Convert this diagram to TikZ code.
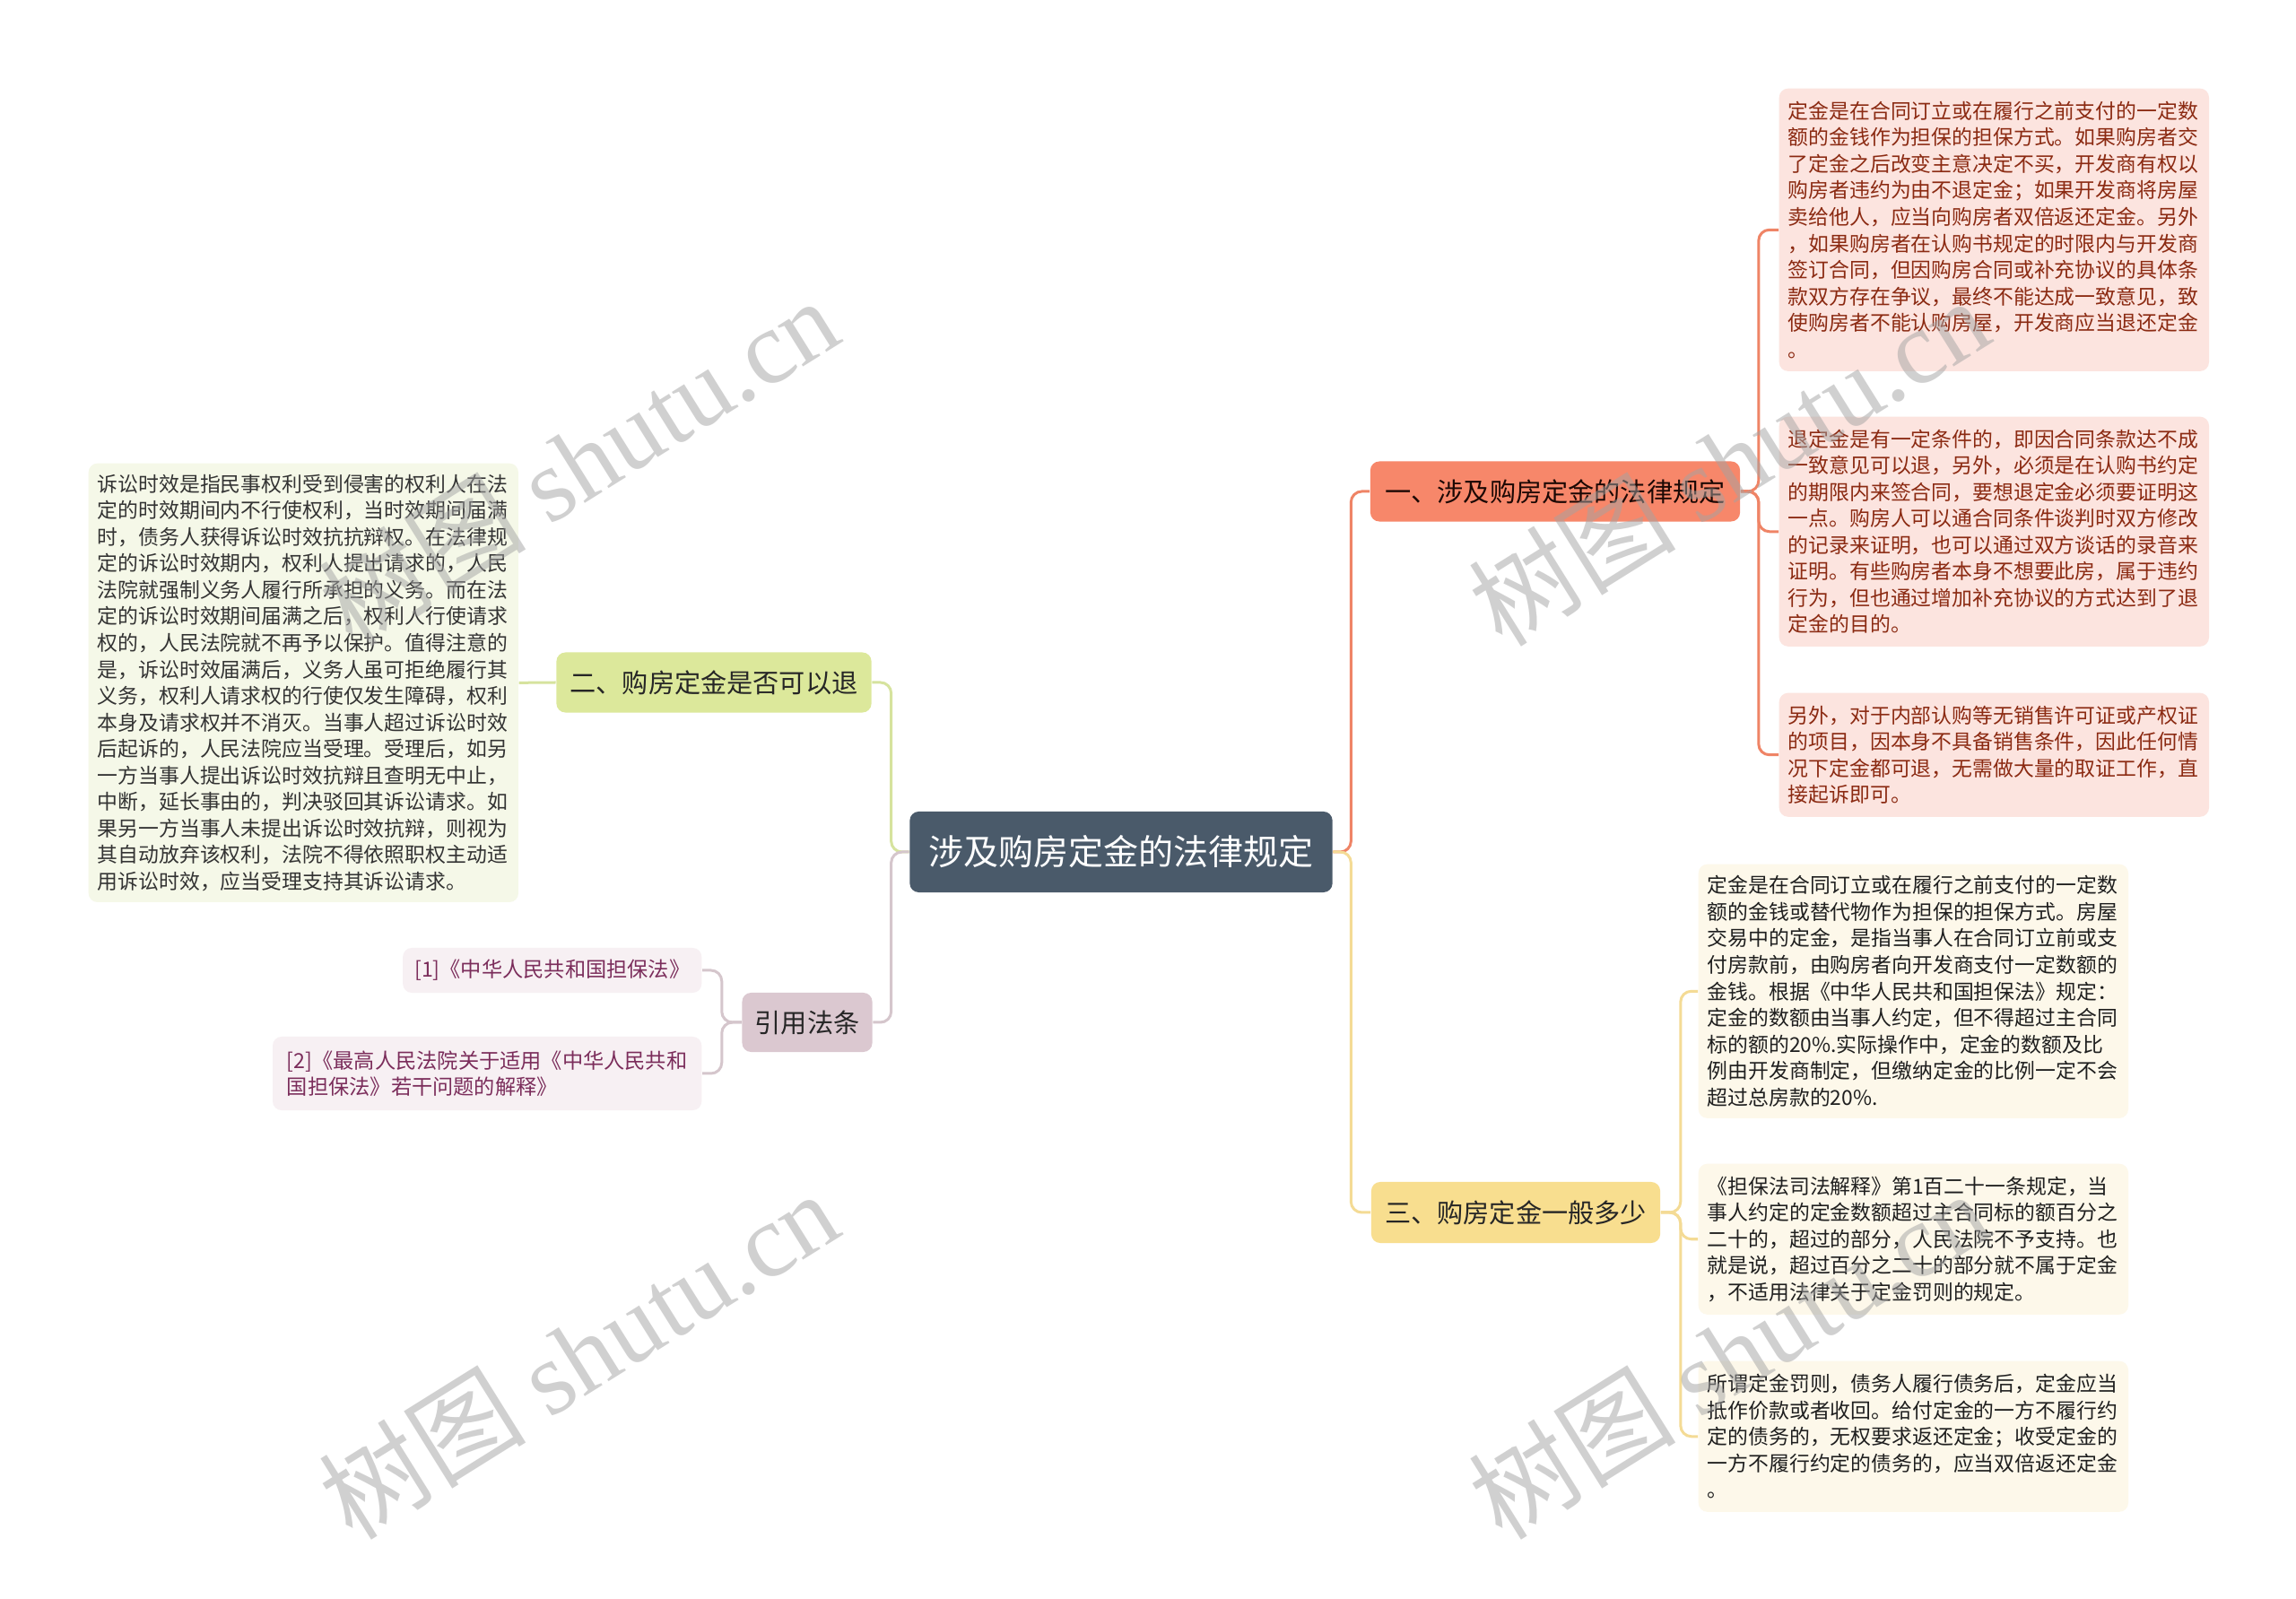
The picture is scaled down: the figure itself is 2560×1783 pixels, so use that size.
\documentclass[tikz,border=0pt]{standalone}
\usepackage{fontspec}
\setmainfont{Noto Sans CJK SC}
\newfontfamily\wmlatin{Liberation Serif}

\definecolor{rootfill}{HTML}{4A5A6A}
\definecolor{onefill}{HTML}{F7876A}
\definecolor{oneline}{HTML}{EF8466}
\definecolor{oneleaf}{HTML}{FCE4DF}
\definecolor{onetext}{HTML}{8B2A12}
\definecolor{twofill}{HTML}{DCE89B}
\definecolor{twoline}{HTML}{D6E39E}
\definecolor{twoleaf}{HTML}{F5F8E8}
\definecolor{threefill}{HTML}{F8DE8F}
\definecolor{threeline}{HTML}{F4DB95}
\definecolor{threeleaf}{HTML}{FDF8EA}
\definecolor{fourfill}{HTML}{DBC8D0}
\definecolor{fourline}{HTML}{D5C6CC}
\definecolor{fourleaf}{HTML}{F7F0F3}
\definecolor{fourtext}{HTML}{7B2D5B}

\tikzset{
	mapbox/.style={rounded corners=0.1cm, inner sep=0pt, align=center, font=\fontsize{8.3pt}{10pt}\selectfont, text=black!85},
	rootbox/.style={mapbox, fill=rootfill, text=white, minimum width=4.71cm, minimum height=0.9cm, font=\fontsize{11.1pt}{13pt}\selectfont},
	leafbox/.style={rounded corners=0.1cm, anchor=north west, text width=4.59cm, inner xsep=0.1cm, inner ysep=0.05cm, align=left, font=\fontsize{6.5pt}{8.4pt}\selectfont},
	refbox/.style={rounded corners=0.1cm, anchor=east, fill=fourleaf, text=fourtext, inner xsep=0.13cm, inner ysep=0.05cm, align=left, font=\fontsize{6.6pt}{8.4pt}\selectfont},
	link/.style={line width=0.03cm, rounded corners=0.12cm},
	wmark/.style={text=black!36, text opacity=0.5, rotate=32, font=\fontsize{33pt}{38pt}\selectfont}
}

\begin{document}
\begin{tikzpicture}[x=0.01cm, y=-0.01cm]
	\def\TrunkGap{20}
	\useasboundingbox (0,0) rectangle (2560,1783);
	\fill[white] (0,0) rectangle (2560,1783);

	\node[rootbox] (root) at (1250,950) {涉及购房定金的法律规定};

	\node[mapbox, fill=onefill, text=black!80!onetext, minimum width=4.12cm, minimum height=0.67cm] (one) at (1734,548) {一、涉及购房定金的法律规定};
	\node[mapbox, fill=twofill, minimum width=3.51cm, minimum height=0.67cm] (two) at (796,761) {二、购房定金是否可以退};
	\node[mapbox, fill=threefill, minimum width=3.22cm, minimum height=0.68cm] (three) at (1690,1352) {三、购房定金一般多少};
	\node[mapbox, fill=fourfill, minimum width=1.45cm, minimum height=0.66cm] (four) at (900,1140) {引用法条};

	\node[leafbox, fill=oneleaf, text=onetext, minimum height=3.15cm] (oneA) at (1983,98) {定金是在合同订立或在履行之前支付的一定数\\额的金钱作为担保的担保方式。如果购房者交\\了定金之后改变主意决定不买，开发商有权以\\购房者违约为由不退定金；如果开发商将房屋\\卖给他人，应当向购房者双倍返还定金。另外\\，如果购房者在认购书规定的时限内与开发商\\签订合同，但因购房合同或补充协议的具体条\\款双方存在争议，最终不能达成一致意见，致\\使购房者不能认购房屋，开发商应当退还定金\\。};
	\node[leafbox, fill=oneleaf, text=onetext, minimum height=2.56cm] (oneB) at (1983,464) {退定金是有一定条件的，即因合同条款达不成\\一致意见可以退，另外，必须是在认购书约定\\的期限内来签合同，要想退定金必须要证明这\\一点。购房人可以通合同条件谈判时双方修改\\的记录来证明，也可以通过双方谈话的录音来\\证明。有些购房者本身不想要此房，属于违约\\行为，但也通过增加补充协议的方式达到了退\\定金的目的。};
	\node[leafbox, fill=oneleaf, text=onetext, minimum height=1.38cm] (oneC) at (1983,772) {另外，对于内部认购等无销售许可证或产权证\\的项目，因本身不具备销售条件，因此任何情\\况下定金都可退，无需做大量的取证工作，直\\接起诉即可。};

	\node[leafbox, fill=twoleaf, text=black!80, minimum height=4.89cm] (twoA) at (98,516) {诉讼时效是指民事权利受到侵害的权利人在法\\定的时效期间内不行使权利，当时效期间届满\\时，债务人获得诉讼时效抗抗辩权。在法律规\\定的诉讼时效期内，权利人提出请求的，人民\\法院就强制义务人履行所承担的义务。而在法\\定的诉讼时效期间届满之后，权利人行使请求\\权的，人民法院就不再予以保护。值得注意的\\是，诉讼时效届满后，义务人虽可拒绝履行其\\义务，权利人请求权的行使仅发生障碍，权利\\本身及请求权并不消灭。当事人超过诉讼时效\\后起诉的，人民法院应当受理。受理后，如另\\一方当事人提出诉讼时效抗辩且查明无中止，\\中断，延长事由的，判决驳回其诉讼请求。如\\果另一方当事人未提出诉讼时效抗辩，则视为\\其自动放弃该权利，法院不得依照职权主动适\\用诉讼时效，应当受理支持其诉讼请求。};

	\node[leafbox, fill=threeleaf, text=black!88, minimum height=2.83cm] (threeA) at (1893,963) {定金是在合同订立或在履行之前支付的一定数\\额的金钱或替代物作为担保的担保方式。房屋\\交易中的定金，是指当事人在合同订立前或支\\付房款前，由购房者向开发商支付一定数额的\\金钱。根据《中华人民共和国担保法》规定：\\定金的数额由当事人约定，但不得超过主合同\\标的额的20\%.实际操作中，定金的数额及比\\例由开发商制定，但缴纳定金的比例一定不会\\超过总房款的20\%.};
	\node[leafbox, fill=threeleaf, text=black!88, minimum height=1.68cm] (threeB) at (1893,1297) {《担保法司法解释》第1百二十一条规定，当\\事人约定的定金数额超过主合同标的额百分之\\二十的，超过的部分，人民法院不予支持。也\\就是说，超过百分之二十的部分就不属于定金\\，不适用法律关于定金罚则的规定。};
	\node[leafbox, fill=threeleaf, text=black!88, minimum height=1.68cm] (threeC) at (1893,1517) {所谓定金罚则，债务人履行债务后，定金应当\\抵作价款或者收回。给付定金的一方不履行约\\定的债务的，无权要求返还定金；收受定金的\\一方不履行约定的债务的，应当双倍返还定金\\。};

	\node[refbox, minimum width=3.24cm, minimum height=0.5cm] (refA) at (783,1082) {[1]《中华人民共和国担保法》};
	\node[refbox, minimum width=4.78cm, minimum height=0.82cm] (refB) at (783,1197) {[2]《最高人民法院关于适用《中华人民共和\\国担保法》若干问题的解释》};

	\draw[link, oneline] (root.east) -- ++(\TrunkGap,0) |- (one.west);
	\draw[link, threeline] (root.east) -- ++(\TrunkGap,0) |- (three.west);
	\draw[link, twoline] (root.west) -- ++(-\TrunkGap,0) |- (two.east);
	\draw[link, fourline] (root.west) -- ++(-\TrunkGap,0) |- (four.east);

	\draw[link, oneline] (one.east) -- ++(\TrunkGap,0) |- (oneA.west);
	\draw[link, oneline] (one.east) -- ++(\TrunkGap,0) |- (oneB.west);
	\draw[link, oneline] (one.east) -- ++(\TrunkGap,0) |- (oneC.west);

	\draw[link, twoline] (two.west) -- (twoA.east);

	\draw[link, threeline] (three.east) -- ++(22,0) |- (threeA.west);
	\draw[link, threeline] (three.east) -- ++(22,0) |- (threeB.west);
	\draw[link, threeline] (three.east) -- ++(22,0) |- (threeC.west);

	\draw[link, fourline] (four.west) -- ++(-22,0) |- (refA.east);
	\draw[link, fourline] (four.west) -- ++(-22,0) |- (refB.east);

	\node[wmark] (markA) at (645,514) {树图 {\wmlatin shutu.cn}};
	\node[wmark] (markB) at (645,1510) {树图 {\wmlatin shutu.cn}};
	\node[wmark] (markC) at (1927,514) {树图 {\wmlatin shutu.cn}};
	\node[wmark] (markD) at (1927,1510) {树图 {\wmlatin shutu.cn}};
\end{tikzpicture}
\end{document}
